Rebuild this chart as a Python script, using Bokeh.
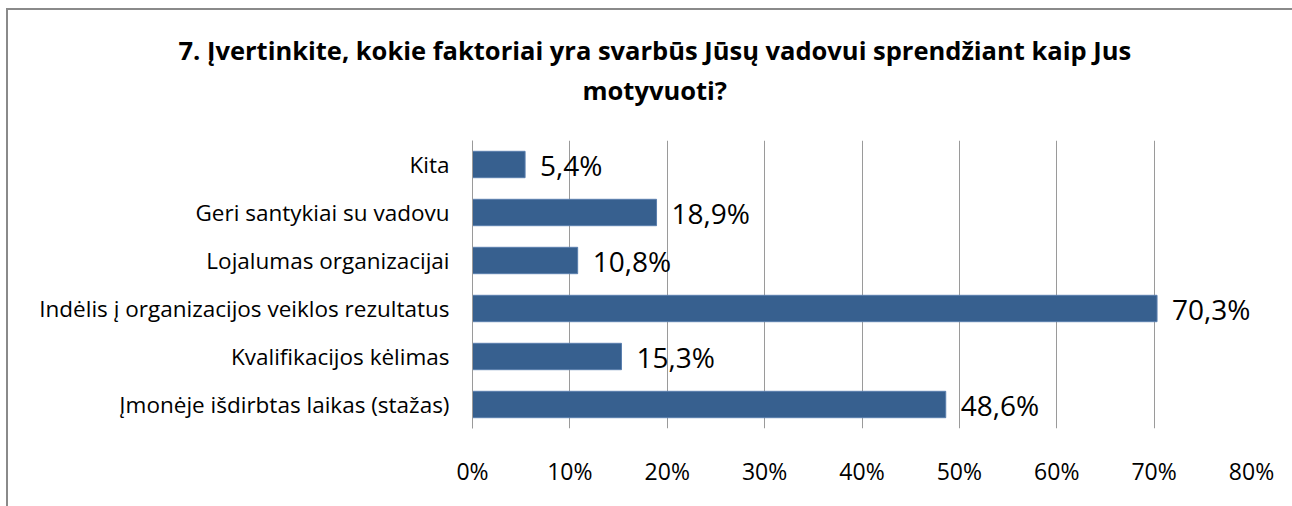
from bokeh.plotting import figure
from bokeh.models import FactorRange, FixedTicker, NumeralTickFormatter, ColumnDataSource, Range1d, Title
from bokeh.core.properties import value
from bokeh.embed import file_html
from bokeh.resources import INLINE

categories = [
    "Kita",
    "Geri santykiai su vadovu",
    "Lojalumas organizacijai",
    "Indėlis į organizacijos veiklos rezultatus",
    "Kvalifikacijos kėlimas",
    "Įmonėje išdirbtas laikas (stažas)",
]
values = [5.4, 18.9, 10.8, 70.3, 15.3, 48.6]
labels = ["5,4%", "18,9%", "10,8%", "70,3%", "15,3%", "48,6%"]
ticks = [0, 0.1, 0.2, 0.3, 0.4, 0.5, 0.6, 0.7, 0.8]
title_line1 = "7. Įvertinkite, kokie faktoriai yra svarbūs Jūsų vadovui sprendžiant kaip Jus"
title_line2 = "motyvuoti?"

FONT = "Open Sans"

src = ColumnDataSource(dict(
    cat=categories,
    val=[v / 100 for v in values],
    lab=labels,
))

p = figure(
    y_range=FactorRange(factors=list(reversed(categories))),
    x_range=Range1d(0, 0.8),
    width=1284, height=496,
    frame_width=779, frame_height=288,
    min_border_left=464, min_border_right=41, min_border_top=130, min_border_bottom=78,
    output_backend="svg", toolbar_location=None,
    title=None,
)
p.styles = {"border-left": "2px solid #8a8a8a", "border-top": "2px solid #8a8a8a",
            "margin-left": "6px", "margin-top": "8px"}

spacer = Title(text=" ", align="left", standoff=16, text_font=FONT, text_font_size="10px")
t2 = Title(text=title_line2, align="left", offset=110, standoff=4,
           text_font=FONT, text_font_size="25.5px", text_font_style="bold", text_color="#000000")
t1 = Title(text=title_line1, align="left", offset=-294, standoff=4,
           text_font=FONT, text_font_size="25.5px", text_font_style="bold", text_color="#000000")
p.add_layout(spacer, "above")
p.add_layout(t2, "above")
p.add_layout(t1, "above")

p.hbar(y="cat", right="val", left=0, height=0.55, source=src,
       fill_color="#37608F", line_color="#5a7fae", line_width=1)

p.text(x="val", y="cat", text="lab", source=src, x_offset=15,
       text_baseline="middle", text_align="left",
       text_font=value(FONT), text_font_size="28px", text_color="#000000")

p.outline_line_color = None
p.ygrid.grid_line_color = None
p.xgrid.grid_line_color = "#9a9a9a"
p.xgrid.grid_line_width = 1
p.xaxis.ticker = FixedTicker(ticks=ticks)
p.xaxis.formatter = NumeralTickFormatter(format="0%")
p.xaxis.axis_line_color = None
p.xaxis.major_tick_line_color = None
p.xaxis.minor_tick_line_color = None
p.xaxis.major_label_standoff = 20
p.xaxis.major_label_text_font = FONT
p.xaxis.major_label_text_font_size = "23px"
p.xaxis.major_label_text_color = "#000000"

p.yaxis.axis_line_color = "#9a9a9a"
p.yaxis.major_tick_line_color = None
p.yaxis.minor_tick_line_color = None
p.yaxis.major_label_standoff = 17
p.yaxis.major_label_text_font = FONT
p.yaxis.major_label_text_font_size = "22.5px"
p.yaxis.major_label_text_color = "#000000"

open("out.html", "w").write(file_html(p, INLINE))
